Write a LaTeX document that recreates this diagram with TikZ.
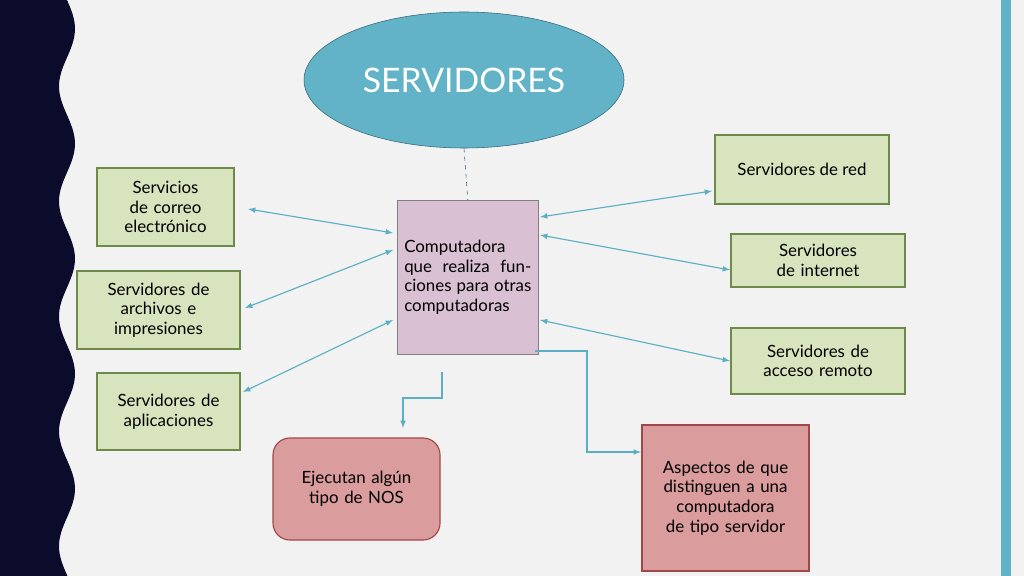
\documentclass[tikz,border=0pt]{standalone}
\usepackage{fontspec}
\setmainfont{Lato}
\usetikzlibrary{shapes.geometric}
\definecolor{bgray}{HTML}{F2F2F2}
\definecolor{navy}{HTML}{0B0B2B}
\definecolor{tealc}{HTML}{62B3C8}
\definecolor{linec}{HTML}{5AAFC3}
\definecolor{greenf}{HTML}{D7E4BD}
\definecolor{greend}{HTML}{6E8A4A}
\definecolor{lilac}{HTML}{D9C0D3}
\definecolor{rosef}{HTML}{DA9C9C}
\definecolor{rosed}{HTML}{A04848}
\begin{document}
\begin{tikzpicture}[x=0.025cm,y=-0.025cm,
  every node/.style={font=\large,align=center,text=black},
  greenbox/.style={draw=greend,fill=greenf,line width=0.8pt},
  rosebox/.style={draw=rosed,fill=rosef,line width=0.8pt},
  link/.style={draw=linec,line width=0.8pt,-latex}]

    % background
    \fill[bgray] (0,0) rectangle (1024,576);
    \useasboundingbox (0,0) rectangle (1024,576);
    \fill[navy] (0,0) -- plot[domain=0:576,samples=80,smooth] ({67+8*sin(\x/115*360)},\x) -- (0,576) -- cycle;
    \fill[tealc] (1001,0) rectangle (1011,576);

    % title
    \node (title) [ellipse,draw=linec!60!black,fill=tealc,minimum width=320*0.025cm,
      minimum height=136*0.025cm,text=white,font=\fontsize{24}{28}\selectfont]
      at (464,80) {SERVIDORES};

    % center
    \node (center) [draw=gray,fill=lilac,minimum width=141*0.025cm,minimum height=154*0.025cm,
      text width=127*0.025cm,align=justify,anchor=north west] at (397,200)
      {Computadora que realiza funciones para otras computadoras};
    \draw[linec!60!black,dashed] (title.south) -- (center.north);

    % left boxes
    \node (mail) [greenbox,minimum width=137*0.025cm,minimum height=78*0.025cm,text width=125*0.025cm] at (165.5,207) {Servicios de correo electrónico};
    \node (files) [greenbox,minimum width=163*0.025cm,minimum height=78*0.025cm,text width=150*0.025cm] at (158.5,310) {Servidores de archivos e impresiones};
    \node (apps) [greenbox,minimum width=143*0.025cm,minimum height=77*0.025cm,text width=130*0.025cm] at (168.5,411.5) {Servidores de aplicaciones};

    % right boxes
    \node (net) [greenbox,minimum width=174*0.025cm,minimum height=69*0.025cm] at (802,169.5) {Servidores de red};
    \node (web) [greenbox,minimum width=174*0.025cm,minimum height=53*0.025cm,text width=160*0.025cm] at (818,260.5) {Servidores de internet};
    \node (remote) [greenbox,minimum width=174*0.025cm,minimum height=66*0.025cm,text width=160*0.025cm] at (818,361) {Servidores de acceso remoto};

    % bottom boxes
    \node (nos) [rosebox,rounded corners=12pt,minimum width=167*0.025cm,minimum height=102*0.025cm,text width=150*0.025cm] at (356.5,489) {Ejecutan algún tipo de NOS};
    \node (aspects) [rosebox,minimum width=167*0.025cm,minimum height=146*0.025cm,text width=155*0.025cm] at (725.5,498) {Aspectos de que distinguen a una computadora de tipo servidor};

    % links
    \coordinate (c1) at (393,233);
    \coordinate (c2) at (393,250);
    \coordinate (c3) at (393,320);
    \coordinate (c4) at (540,217);
    \coordinate (c5) at (540,235);
    \coordinate (c6) at (540,320);
    \coordinate (e1) at (248,209);
    \coordinate (e2) at (245,308);
    \coordinate (e3) at (243,392);
    \coordinate (e4) at (712,191);
    \coordinate (e5) at (730,270);
    \coordinate (e6) at (730,361);
    \coordinate (e7) at (641,452);
    \draw[link,latex-latex] (e1) -- (c1);
    \draw[link,latex-latex] (e2) -- (c2);
    \draw[link,latex-latex] (e3) -- (c3);
    \draw[link,latex-latex] (c4) -- (e4);
    \draw[link,latex-latex] (c5) -- (e5);
    \draw[link,latex-latex] (c6) -- (e6);
    \draw[link] (442,372) -- (442,398) -- (403,398) -- (403,428);
    \draw[link] (535,351) -- (587,351) -- (587,452) -- (e7);
\end{tikzpicture}
\end{document}
